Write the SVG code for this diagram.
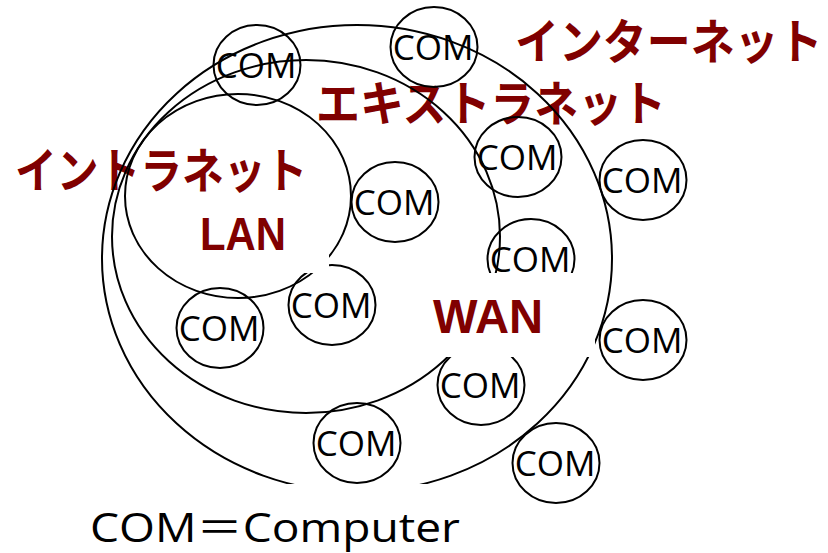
<svg xmlns="http://www.w3.org/2000/svg" width="828" height="553" viewBox="0 0 828 553">
  <defs>
    <style>
      .jp { font-family: "Noto Sans CJK JP", sans-serif; font-weight: 700; font-size: 48px; fill: #800000; }
      .net { font-family: "Liberation Sans", Arial, sans-serif; font-weight: 700; fill: #800000; text-anchor: middle; }
      .ring { fill: none; stroke: #000; stroke-width: 2; }
      .com ellipse { fill: none; stroke: #000; stroke-width: 2; }
      .com text { font-family: "Open Sans", "Noto Sans", sans-serif; font-size: 35px; fill: #000; text-anchor: middle; }
      .mask { fill: #fff; stroke: none; }
      .caption { font-family: "Open Sans", "Noto Sans CJK JP", sans-serif; font-size: 41px; fill: #000; }
    </style>
  </defs>

  <rect x="0" y="0" width="828" height="553" fill="#fff"/>

  <!-- network names (narrowed horizontally) -->
  <g id="labels">
    <text class="jp" transform="translate(515 59) scale(0.915 1)">インターネット</text>
    <text class="jp" transform="translate(316 121) scale(0.915 1)">エキストラネット</text>
    <text class="jp" transform="translate(15 188) scale(0.87 1)">イントラネット</text>
  </g>

  <!-- nested network boundaries -->
  <g id="connectors">
    <ellipse id="internet" class="ring" cx="357" cy="258.5" rx="255" ry="233.5"/>
    <ellipse id="extranet" class="ring" cx="306" cy="236.5" rx="194" ry="176.5"/>
    <ellipse id="intranet" class="ring" cx="238" cy="196" rx="113" ry="102"/>
  </g>

  <!-- computers -->
  <g id="com1" class="com"><ellipse cx="257" cy="65" rx="43.5" ry="40"/><text x="256" y="78">COM</text></g>
  <g id="com2" class="com"><ellipse cx="434" cy="47" rx="43.5" ry="40"/><text x="433" y="60">COM</text></g>
  <g id="com3" class="com"><ellipse cx="518" cy="157" rx="43.5" ry="40"/><text x="517" y="170">COM</text></g>
  <g id="com4" class="com"><ellipse cx="643" cy="180" rx="43.5" ry="40"/><text x="642" y="193">COM</text></g>
  <g id="com5" class="com"><ellipse cx="395" cy="202" rx="43.5" ry="40"/><text x="394" y="215">COM</text></g>
  <g id="com6" class="com"><ellipse cx="531" cy="259" rx="43.5" ry="40"/><text x="530" y="272">COM</text></g>
  <g id="com7" class="com"><ellipse cx="220" cy="328" rx="43.5" ry="40"/><text x="219" y="341">COM</text></g>
  <g id="com8" class="com"><ellipse cx="332" cy="305" rx="43.5" ry="40"/><text x="331" y="318">COM</text></g>
  <g id="com9" class="com"><ellipse cx="643" cy="340" rx="43.5" ry="40"/><text x="642" y="353">COM</text></g>
  <g id="com10" class="com"><ellipse cx="481" cy="385" rx="43.5" ry="40"/><text x="480" y="398">COM</text></g>
  <g id="com11" class="com"><ellipse cx="357" cy="443" rx="43.5" ry="40"/><text x="356" y="456">COM</text></g>
  <g id="com12" class="com"><ellipse cx="556" cy="463" rx="43.5" ry="40"/><text x="555" y="476">COM</text></g>

  <!-- LAN / WAN labels sit on white boxes that hide the lines behind them -->
  <g id="lan">
    <rect class="mask" x="180" y="205" width="149" height="68"/>
    <text class="net" x="243" y="250" font-size="46" textLength="86" lengthAdjust="spacingAndGlyphs">LAN</text>
  </g>
  <g id="wan">
    <rect class="mask" x="385" y="273" width="210" height="84"/>
    <text class="net" x="488" y="333" font-size="48" textLength="110" lengthAdjust="spacingAndGlyphs">WAN</text>
  </g>

  <!-- legend -->
  <g id="legend">
    <rect class="mask" x="60" y="484" width="420" height="69"/>
    <text class="caption" x="90" y="542" textLength="370" lengthAdjust="spacingAndGlyphs">COM＝Computer</text>
  </g>
</svg>
